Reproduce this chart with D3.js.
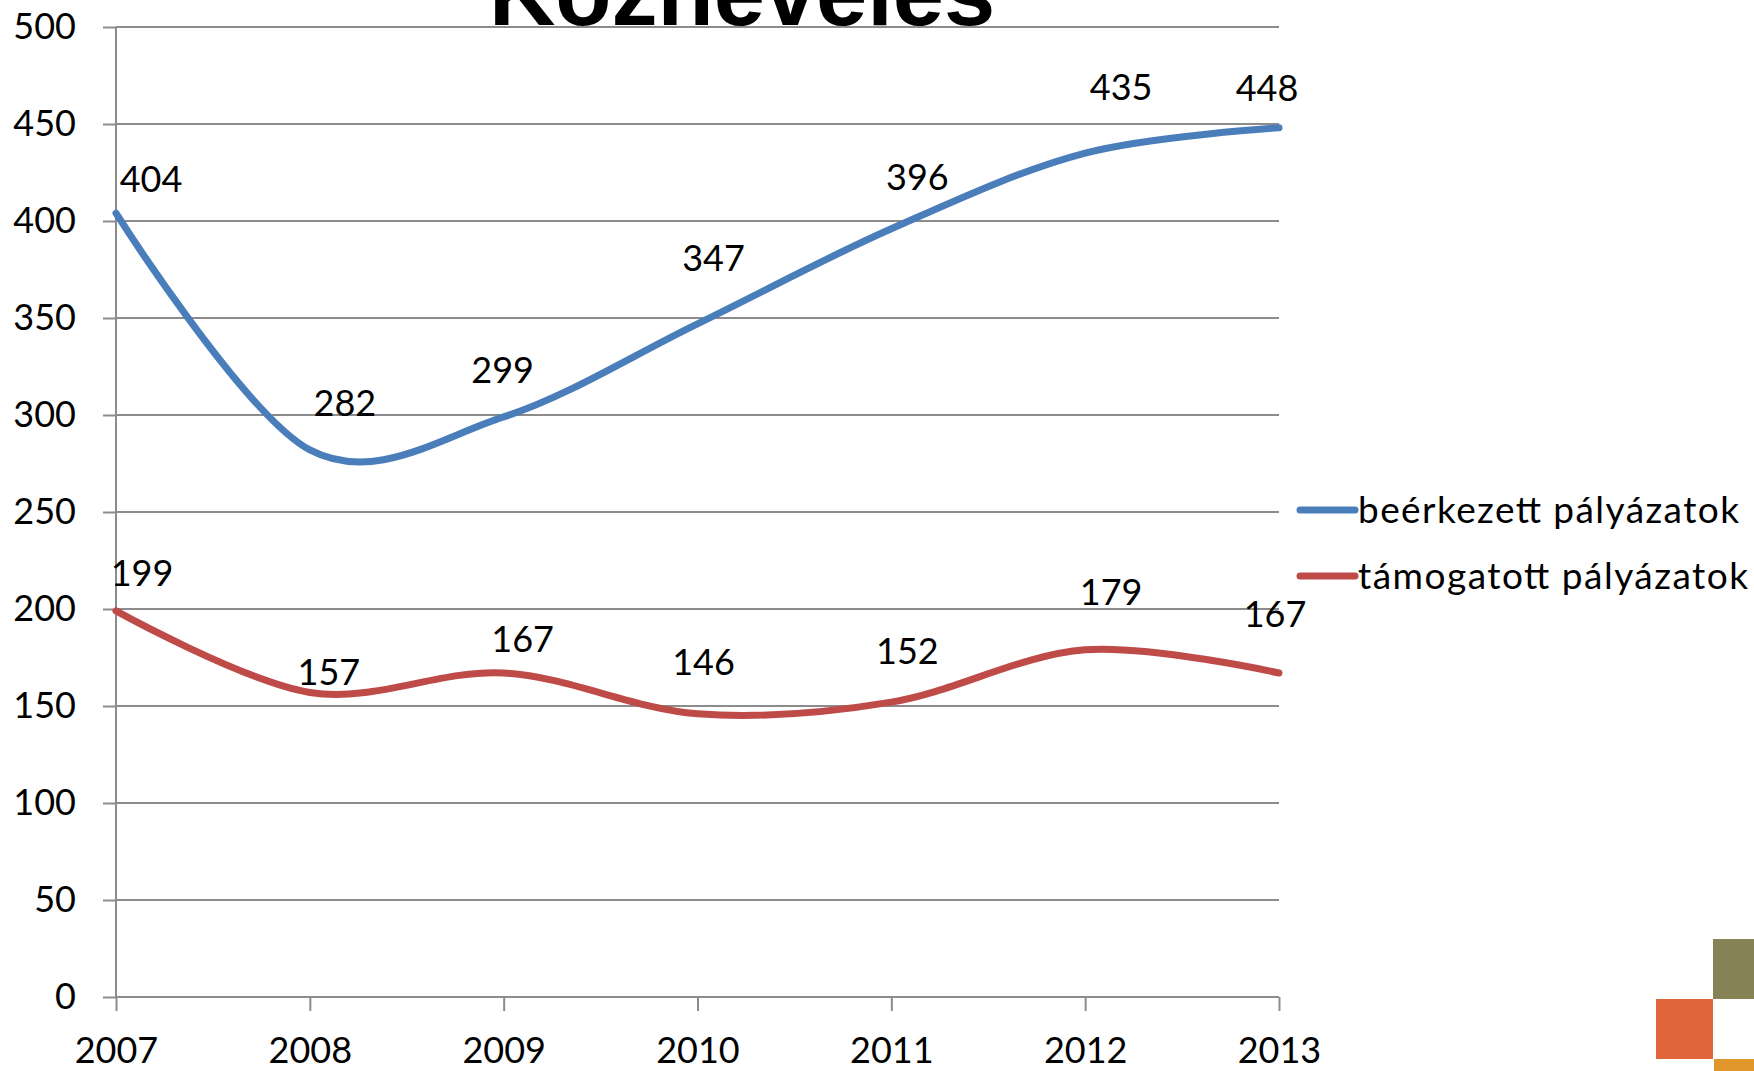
<!DOCTYPE html>
<html lang="hu">
    <head>
        <meta charset="utf-8">
        <title>Köznevelés</title>
        <script src="https://cdn.jsdelivr.net/npm/d3@7"></script>
        <style type="text/css">
            body { margin: 0; background: #fff; }
            text { font-family: Lato, "Open Sans", sans-serif; fill: #000; }
        </style>
    </head>
    <body>
        <script>
            // data
            var years = ["2007", "2008", "2009", "2010", "2011", "2012", "2013"];
            var received = [404, 282, 299, 347, 396, 435, 448];
            var supported = [199, 157, 167, 146, 152, 179, 167];
            var seriesNames = ["beérkezett pályázatok", "támogatott pályázatok"];
            var yTicks = [0, 50, 100, 150, 200, 250, 300, 350, 400, 450, 500];

            // label nudges (px) from each point to the label centre, as placed in the original
            var receivedNudge = [[35, -34], [35, -47], [-1, -47], [16, -65], [26, -51], [36, -66], [-12, -39]];
            var supportedNudge = [[26, -38], [19, -20], [19, -34], [6, -51], [16, -51], [26, -57], [-4, -59]];

            // configuration
            var outerWidth = 1754;
            var outerHeight = 1071;
            var margin = { left: 116, top: 27, right: 475, bottom: 74 };
            var innerWidth = outerWidth - margin.left - margin.right;
            var innerHeight = outerHeight - margin.top - margin.bottom;

            var colors = ["#4a7ebb", "#be4b48"];
            var fontSize = 36;
            var legendTextWidth = [381, 390];

            var svg = d3.select("body")
                .append("svg")
                .attr("width", outerWidth)
                .attr("height", outerHeight);

            // title, cut off by the top edge as in the slide
            svg.append("text")
                .attr("x", 742)
                .attr("y", 25)
                .attr("text-anchor", "middle")
                .style("font-family", "'Liberation Sans', Arial, sans-serif")
                .style("font-weight", "bold")
                .style("font-size", "92px")
                .text("Köznevelés");

            var g = svg.append("g")
                .attr("transform", "translate(" + margin.left + "," + margin.top + ")");

            var xScale = d3.scalePoint().domain(years).range([0, innerWidth]);
            var yScale = d3.scaleLinear().domain([0, 500]).range([innerHeight, 0]);

            // gridlines
            g.append("g")
                .selectAll("line")
                .data(yTicks.filter(function (d) { return d > 0; }))
                .enter().append("line")
                .attr("x1", 0)
                .attr("x2", innerWidth)
                .attr("y1", function (d) { return yScale(d); })
                .attr("y2", function (d) { return yScale(d); })
                .attr("stroke", "#8c8c8c")
                .attr("stroke-width", 2);

            // y axis
            var yAxis = g.append("g")
                .call(d3.axisLeft(yScale).tickValues(yTicks).tickSize(13).tickPadding(27));
            yAxis.select(".domain").attr("stroke", "#8c8c8c").attr("stroke-width", 2)
                .attr("d", "M0," + innerHeight + "V0");
            yAxis.selectAll(".tick line").attr("stroke", "#8c8c8c").attr("stroke-width", 2);
            yAxis.selectAll(".tick text")
                .style("font-size", fontSize + "px")
                .attr("fill", "#000");

            // x axis
            var xAxis = g.append("g")
                .attr("transform", "translate(0," + innerHeight + ")")
                .call(d3.axisBottom(xScale).tickSize(14).tickPadding(26));
            xAxis.select(".domain").attr("stroke", "#8c8c8c").attr("stroke-width", 2)
                .attr("d", "M0,0H" + innerWidth);
            xAxis.selectAll(".tick line").attr("stroke", "#8c8c8c").attr("stroke-width", 2);
            xAxis.selectAll(".tick text")
                .style("font-size", fontSize + "px")
                .attr("fill", "#000");

            // smoothed lines
            var line = d3.line()
                .x(function (d, i) { return xScale(years[i]); })
                .y(function (d) { return yScale(d); })
                .curve(d3.curveCatmullRom.alpha(0));

            [received, supported].forEach(function (series, s) {
                g.append("path")
                    .datum(series)
                    .attr("d", line)
                    .attr("fill", "none")
                    .attr("stroke", colors[s])
                    .attr("stroke-width", 7)
                    .attr("stroke-linecap", "round");
            });

            // data labels
            [[received, receivedNudge], [supported, supportedNudge]].forEach(function (pair) {
                g.append("g")
                    .selectAll("text")
                    .data(pair[0])
                    .enter().append("text")
                    .attr("x", function (d, i) { return xScale(years[i]) + pair[1][i][0]; })
                    .attr("y", function (d, i) { return yScale(d) + pair[1][i][1]; })
                    .attr("dy", "0.35em")
                    .attr("text-anchor", "middle")
                    .style("font-size", fontSize + "px")
                    .text(function (d) { return d; });
            });

            // legend
            var legend = svg.append("g")
                .attr("transform", "translate(1300,510)");
            var items = legend.selectAll("g")
                .data(seriesNames)
                .enter().append("g")
                .attr("transform", function (d, i) { return "translate(0," + (i * 66) + ")"; });
            items.append("line")
                .attr("x1", 0).attr("x2", 55)
                .attr("stroke", function (d, i) { return colors[i]; })
                .attr("stroke-width", 7)
                .attr("stroke-linecap", "round");
            items.append("text")
                .attr("x", 58)
                .attr("dy", "0.35em")
                .attr("textLength", function (d, i) { return legendTextWidth[i]; })
                .attr("lengthAdjust", "spacing")
                .style("font-size", "37px")
                .text(function (d) { return d; });

            // slide decoration squares, bottom right
            var squares = [
                { x: 1713, y: 939, w: 60, h: 60, c: "#858255" },
                { x: 1656, y: 999, w: 57, h: 60, c: "#e0653b" },
                { x: 1714, y: 1059, w: 60, h: 20, c: "#e0962a" }
            ];
            svg.append("g")
                .selectAll("rect")
                .data(squares)
                .enter().append("rect")
                .attr("x", function (d) { return d.x; })
                .attr("y", function (d) { return d.y; })
                .attr("width", function (d) { return d.w; })
                .attr("height", function (d) { return d.h; })
                .attr("fill", function (d) { return d.c; });
        </script>
    </body>
</html>
